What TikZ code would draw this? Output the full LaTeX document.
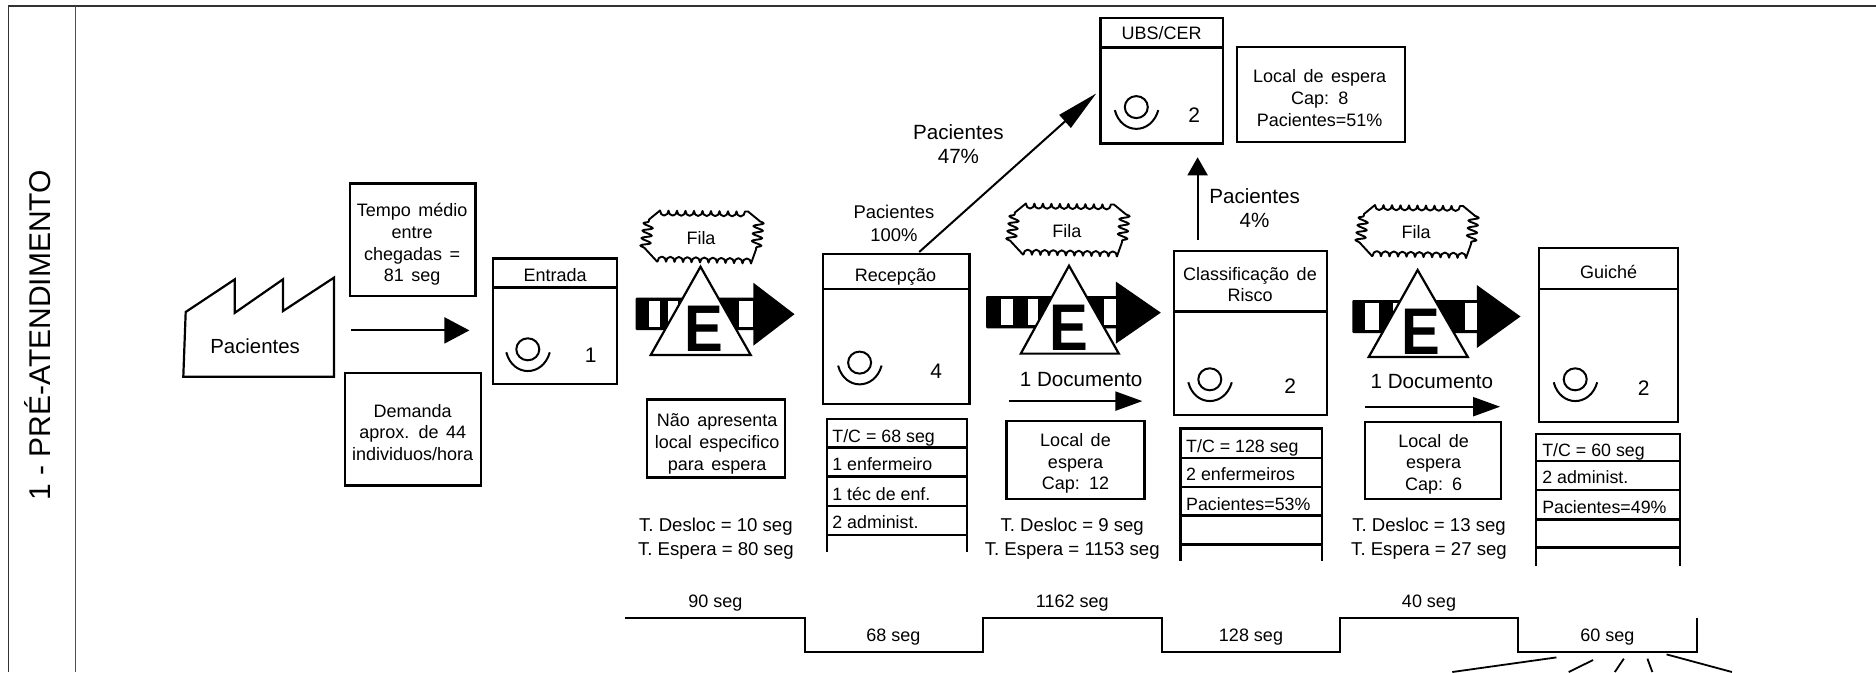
\documentclass[tikz,border=0pt]{standalone}
\usepackage{fontspec}
\setmainfont{Liberation Sans}
\usetikzlibrary{arrows.meta,decorations.pathmorphing}
\tikzset{
 x=1pt,y=-1pt,
 boxst/.style={draw=black,line width=2.3pt,inner sep=0pt,outer sep=0pt},
 boxtxt/.style={inner sep=0pt,align=center,yshift=-1.5pt,font=\fontsize{18}{21.6}\selectfont,execute at begin node={\spaceskip=7.5pt\relax}},
 txt/.style={inner sep=0pt,align=center,yshift=-2pt,text height=12.9pt,text depth=3.8pt,font=\fontsize{18}{21.4}\selectfont},
 numtxt/.style={inner sep=0pt,font=\fontsize{21}{24}\selectfont},
 info/.style={inner sep=0pt,align=center,yshift=-2pt,font=\fontsize{18.6}{24}\selectfont},
 rowtxt/.style={inner sep=0pt,anchor=west,yshift=-2pt,text height=12.9pt,text depth=3.8pt,font=\fontsize{17.8}{21}\selectfont},
 big/.style={inner sep=0pt,align=center,font=\fontsize{20.6}{24}\selectfont},
 tbl/.style={line width=2.3pt,line cap=butt},
 snk/.style={decoration={bumps,mirror,segment length=17pt,amplitude=5pt}},
 snv/.style={decoration={snake,segment length=7.5pt,amplitude=5pt}},
}
\newcommand{\pbox}[5]{%
 \pgfmathsetmacro{\wdv}{#4-#2}\pgfmathsetmacro{\htv}{#5-#3}%
 \node[boxst,minimum width=\wdv pt,minimum height=\htv pt,anchor=north west] (#1) at (#2,#3) {};}
\newcommand{\oper}[2]{%
 \draw[line width=2pt] (#1,#2) ellipse [x radius=11.5pt,y radius=11pt];
 \draw[line width=2pt] (#1-21.5,#2+3) .. controls (#1-15,#2+28) and (#1+15,#2+28) .. (#1+22,#2+3);}
\newcommand{\fila}[3]{%
 \begin{scope}[shift={(#2,#3)}]
 \draw[line width=1.9pt,line join=round] (-41,-27) decorate[snk]{-- (47,-26)} -- (58,-17) decorate[snv]{-- (55,12)} -- (50,26) decorate[snk]{-- (-44,24)} -- (-56,11) decorate[snv]{-- (-52,-18)} -- cycle;
 \node[txt] (#1) at (0,0) {Fila};
 \end{scope}}
\newcommand{\queue}[9]{%
 \fill[black,rounded corners=1pt] (#1,#3) rectangle (#2+1,#4);
 \fill[black] (#2,#6) -- (#5,{(#6+#7)/2}) -- (#2,#7) -- cycle;
 \foreach \a/\b in {#8}{\fill[white] (\a,#3+3) rectangle (\b,#4-3);}
 #9}
\newcommand{\tria}[7]{%
 \draw[line width=2.2pt,fill=white,line join=miter] (#1,#2) -- (#3,#5) -- (#4,#5) -- cycle;
 \node[inner sep=0pt,xscale=.88,font=\fontsize{66}{66}\selectfont\bfseries] (#7) at (#6) {E};}
\begin{document}
\begin{tikzpicture}
\useasboundingbox (0,0) rectangle (1876,672);
% frame
\draw[line width=1.3pt,draw=black!80] (1876,6) -- (8.6,6) -- (8.6,672);
\draw[line width=1.6pt,draw=black!70] (75.5,6) -- (75.5,672);
\node[rotate=90,inner sep=0pt,font=\fontsize{30}{32}\selectfont] (lane) at (37.5,335.4) {1 - PRÉ-ATENDIMENTO};
% factory
\draw[line width=2.2pt,line join=miter] (183.3,376.7) -- (185.7,312) -- (234.7,279.4) -- (234.7,312.9) -- (282.9,279.4) -- (282.9,311.1) -- (333.9,277.7) -- (333.9,376.7) -- cycle;
\node[inner sep=0pt,font=\fontsize{20.4}{24}\selectfont] (pac) at (255.1,346.3) {Pacientes};
% info boxes
\pbox{tempo}{350.2}{183.4}{475.5}{296.1}
\node[boxtxt] (tempot) at (412.2,243) {Tempo médio\\entre\\chegadas =\\81 seg};
\coordinate (a1s) at (351,330.4); \coordinate (a1e) at (469.4,330.4);
\draw[line width=2pt,-{Triangle[length=25pt,width=26pt]}] (a1s) -- (a1e);
\pbox{dem}{344.9}{372.9}{480.8}{485.6}
\node[boxtxt] (demt) at (412.7,431) {Demanda\\aprox. de 44\\individuos/hora};
% Entrada
\pbox{ent}{493}{258.4}{616.7}{384}
\pbox{enth}{493}{258.4}{616.7}{287.6}
\node[txt] (entt) at (555.1,274.7) {Entrada};
\oper{527.8}{349.3}
\node[numtxt] (entn) at (590.6,355.7) {1};
% UBS
\pbox{ubs}{1100.4}{18}{1222.9}{143.6}
\pbox{ubsh}{1100.4}{18}{1222.9}{47.6}
\node[txt] (ubst) at (1161.6,33.4) {UBS/CER};
\oper{1136.3}{107.1}
\node[numtxt] (ubsn) at (1194.3,114.9) {2};
\pbox{lub}{1236.8}{47.1}{1405}{142.3}
\node[boxtxt] (lubt) at (1319.7,96.6) {Local de espera\\Cap: 8\\Pacientes=51\%};
% Recepcao
\pbox{rec}{822.9}{253.7}{969.4}{403.7}
\pbox{rech}{822.9}{253.7}{969.4}{289.3}
\node[txt] (rect) at (895.5,274.7) {Recepção};
\oper{859.6}{362.6}
\node[numtxt] (recn) at (936.3,371.6) {4};
\draw[tbl] (827.3,551.6) -- (827.3,418.7) -- (966.9,418.7) -- (966.9,551.6);
\draw[tbl] (827.3,447.4) -- (966.9,447.4) (827.3,476.6) -- (966.9,476.6) (827.3,505.7) -- (966.9,505.7) (827.3,534.9) -- (966.9,534.9);
\node[rowtxt] (r1) at (832.2,435.9) {T/C = 68 seg};
\node[rowtxt] (r2) at (832.2,463.7) {1 enfermeiro};
\node[rowtxt] (r3) at (832.2,493.7) {1 téc de enf.};
\node[rowtxt] (r4) at (832.2,522) {2 administ.};
% arrows to UBS
\coordinate (a2s) at (919.2,252); \coordinate (a2e) at (1096.3,93.4);
\draw[line width=2pt,-{Triangle[length=42pt,width=17pt]}] (a2s) -- (a2e);
\node[big] (p47) at (958.4,144) {Pacientes\\47\%};
\node[inner sep=0pt,align=center,font=\fontsize{18.4}{23}\selectfont] (p100) at (893.9,223.5) {Pacientes\\100\%};
\coordinate (a3s) at (1197.6,240); \coordinate (a3e) at (1197.6,157.3);
\draw[line width=2pt,-{Triangle[length=18pt,width=20pt]}] (a3s) -- (a3e);
\node[big] (p4) at (1254.6,208.5) {Pacientes\\4\%};
% Classificacao
\pbox{cla}{1173.9}{250.7}{1327}{414.9}
\pbox{clah}{1173.9}{250.7}{1327}{311.6}
\node[boxtxt] (clat) at (1250,283) {Classificação de\\Risco};
\oper{1209.8}{379.3}
\node[numtxt] (clan) at (1290.3,385.7) {2};
\draw[tbl] (1180.4,560.6) -- (1180.4,428.6) -- (1321.7,428.6) -- (1321.7,560.6);
\draw[tbl] (1180.4,457.7) -- (1321.7,457.7) (1180.4,486.9) -- (1321.7,486.9) (1180.4,515.6) -- (1321.7,515.6);
\draw[line width=3.2pt] (1180.4,544.3) -- (1321.7,544.3);
\node[rowtxt] (c1) at (1186,445.7) {T/C = 128 seg};
\node[rowtxt] (c2) at (1186,473.6) {2 enfermeiros};
\node[rowtxt] (c3) at (1186,503.6) {Pacientes=53\%};
% Guiche
\pbox{gui}{1538.9}{247.7}{1678}{422.1}
\pbox{guih}{1538.9}{247.7}{1678}{289.3}
\node[txt] (guit) at (1608.7,271.7) {Guiché};
\oper{1575.2}{379.3}
\node[numtxt] (guin) at (1643.8,387.9) {2};
\draw[tbl] (1536,565.7) -- (1536,433.7) -- (1680,433.7) -- (1680,565.7);
\draw[tbl] (1536,461.1) -- (1680,461.1) (1536,489.9) -- (1680,489.9) (1536,519.4) -- (1680,519.4);
\draw[line width=3.2pt] (1536,547.7) -- (1680,547.7);
\node[rowtxt] (g1) at (1542.1,450) {T/C = 60 seg};
\node[rowtxt] (g2) at (1542.1,477.4) {2 administ.};
\node[rowtxt] (g3) at (1542.1,507.4) {Pacientes=49\%};
% Queues
\fila{f1}{701}{237.5}
\queue{635.7}{753.3}{297.7}{330}{794.5}{282.7}{345.7}{649/660,668/678,739.3/753.3}{\tria{700.5}{266.7}{650.7}{750.7}{355}{703.8,329}{e1}}
\fila{f2}{1066.9}{230.5}
\queue{986.1}{1115.9}{296}{328.3}{1160.8}{281.6}{343.7}{1000.8/1013,1028/1038,1103.7/1115.9}{\tria{1069}{265.7}{1020.8}{1118.8}{353.6}{1069,328}{e2}}
\fila{f3}{1416}{232}
\queue{1352.3}{1476.8}{300}{333}{1520.5}{285}{348}{1365.4/1378.9,1393/1401,1464.6/1476.8}{\tria{1417.6}{270}{1368.7}{1467.8}{357}{1421,332}{e3}}
% texts under queues
\pbox{nao}{647.3}{399.4}{785.3}{477.4}
\node[boxtxt] (naot) at (717.1,442.5) {Não apresenta\\local especifico\\para espera};
\node[info] (t1) at (715.9,537) {T. Desloc = 10 seg\\T. Espera = 80 seg};
\node[big] (d1) at (1081.2,379.3) {1 Documento};
\coordinate (a4s) at (1008.6,401.1); \coordinate (a4e) at (1142.4,401.1);
\draw[line width=2pt,-{Triangle[length=27pt,width=19pt]}] (a4s) -- (a4e);
\pbox{l12}{1006.5}{420.9}{1144.5}{498.9}
\node[boxtxt] (l12t) at (1075.5,462) {Local de\\espera\\Cap: 12};
\node[info] (t2) at (1072.2,537) {T. Desloc = 9 seg\\T. Espera = 1153 seg};
\node[big] (d2) at (1431.9,381.9) {1 Documento};
\coordinate (a5s) at (1365.4,406.7); \coordinate (a5e) at (1500.1,406.7);
\draw[line width=2pt,-{Triangle[length=27pt,width=19pt]}] (a5s) -- (a5e);
\pbox{l6}{1365}{422.1}{1501.3}{498.9}
\node[boxtxt] (l6t) at (1433.6,462.5) {Local de\\espera\\Cap: 6};
\node[info] (t3) at (1429,537) {T. Desloc = 13 seg\\T. Espera = 27 seg};
% timeline
\draw[line width=1.8pt,line join=miter] (624.9,618) -- (804.9,618) -- (804.9,651.9) -- (982.9,651.9) -- (982.9,618) -- (1162,618) -- (1162,651.9) -- (1340.1,651.9) -- (1340.1,618) -- (1518,618) -- (1518,651.9) -- (1697.2,651.9) -- (1697.2,618);
\node[txt] (s1) at (715.5,601.3) {90 seg};
\node[txt] (s2) at (893.5,635.1) {68 seg};
\node[txt] (s3) at (1072.2,601.3) {1162 seg};
\node[txt] (s4) at (1251,635.1) {128 seg};
\node[txt] (s5) at (1429,601.3) {40 seg};
\node[txt] (s6) at (1607.4,635.1) {60 seg};
% lines leaving the picture
\draw[line width=1.8pt] (1556.4,657.4) -- (1452.3,672) (1593.1,660) -- (1568.7,672) (1623.8,658.7) -- (1614.8,672) (1647.4,658.7) -- (1652.3,672) (1666.6,654.4) -- (1731.9,672);
\end{tikzpicture}
\end{document}
